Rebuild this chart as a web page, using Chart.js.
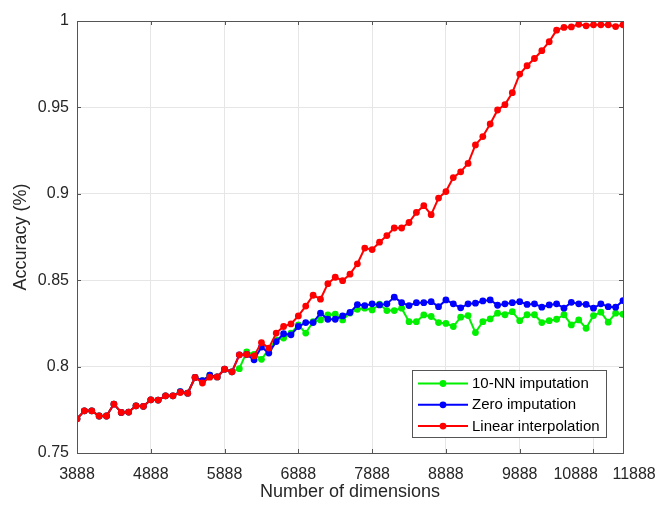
<!DOCTYPE html>
<html><head><meta charset="utf-8">
<script src="https://cdn.jsdelivr.net/npm/chart.js@4/dist/chart.umd.min.js"></script>
<style>html,body{margin:0;padding:0;background:#fff;overflow:hidden}</style>
</head><body>
<canvas id="c" width="659" height="505" style="display:block;width:659px;height:505px"></canvas>
<script>
// Number of dimensions (x categories)
const dims = [3888,3988,4088,4188,4288,4388,4488,4588,4688,4788,
  4888,4988,5088,5188,5288,5388,5488,5588,5688,5788,
  5888,5988,6088,6188,6288,6388,6488,6588,6688,6788,
  6888,6988,7088,7188,7288,7388,7488,7588,7688,7788,
  7888,7988,8088,8188,8288,8388,8488,8588,8688,8788,
  8888,8988,9088,9188,9288,9388,9488,9588,9688,9788,
  9888,9988,10088,10188,10288,10388,10488,10588,10688,10788,
  10888,10988,11088,11188,11288];

const knnAcc = [0.7698,0.7744,0.7744,0.7714,0.7714,0.7783,0.7735,0.7737,0.7773,0.7770,
  0.7808,0.7806,0.7831,0.7831,0.7855,0.7846,0.7937,0.7918,0.7950,0.7940,
  0.7985,0.7970,0.7988,0.8085,0.8070,0.8042,0.8100,0.8155,0.8165,0.8194,
  0.8241,0.8194,0.8260,0.8270,0.8299,0.8303,0.8270,0.8310,0.8332,0.8338,
  0.8328,0.8361,0.8324,0.8324,0.8338,0.8260,0.8260,0.8299,0.8290,0.8255,
  0.8250,0.8232,0.8286,0.8295,0.8197,0.8260,0.8276,0.8309,0.8300,0.8318,
  0.8266,0.8300,0.8300,0.8255,0.8266,0.8274,0.8300,0.8241,0.8270,0.8222,
  0.8295,0.8315,0.8257,0.8309,0.8303];

const zeroAcc = [0.7698,0.7744,0.7744,0.7714,0.7714,0.7783,0.7735,0.7737,0.7773,0.7770,
  0.7808,0.7806,0.7831,0.7831,0.7855,0.7846,0.7937,0.7918,0.7950,0.7940,
  0.7985,0.7970,0.8068,0.8070,0.8039,0.8113,0.8078,0.8145,0.8190,0.8184,
  0.8232,0.8255,0.8255,0.8309,0.8274,0.8274,0.8293,0.8313,0.8359,0.8353,
  0.8363,0.8357,0.8363,0.8402,0.8370,0.8353,0.8370,0.8370,0.8376,0.8347,
  0.8386,0.8363,0.8340,0.8363,0.8367,0.8380,0.8386,0.8355,0.8363,0.8370,
  0.8376,0.8360,0.8363,0.8344,0.8357,0.8363,0.8338,0.8372,0.8363,0.8360,
  0.8338,0.8363,0.8347,0.8344,0.8382];

const linearAcc = [0.7698,0.7744,0.7744,0.7714,0.7714,0.7783,0.7735,0.7737,0.7773,0.7770,
  0.7808,0.7806,0.7831,0.7831,0.7850,0.7846,0.7937,0.7905,0.7939,0.7940,
  0.7985,0.7970,0.8068,0.8070,0.8062,0.8139,0.8107,0.8194,0.8232,0.8247,
  0.8293,0.8350,0.8413,0.8390,0.8480,0.8517,0.8497,0.8535,0.8595,0.8686,
  0.8677,0.8720,0.8758,0.8802,0.8802,0.8834,0.8892,0.8931,0.8879,0.8975,
  0.9013,0.9094,0.9127,0.9176,0.9283,0.9331,0.9404,0.9485,0.9516,0.9585,
  0.9693,0.9741,0.9783,0.9828,0.9880,0.9947,0.9963,0.9966,0.9981,0.9972,
  0.9978,0.9978,0.9978,0.9968,0.9978];

const seriesNames = ['10-NN imputation','Zero imputation','Linear interpolation'];
const seriesColors = ['#00f000','#0000ff','#ff0000'];

const xTickValues = [3888,4888,5888,6888,7888,8888,9888,10888,11288];
const xTickLabels = ['3888','4888','5888','6888','7888','8888','9888','10888','11888'];
const yTickValues = [0.75,0.8,0.85,0.9,0.95,1];
const yTickLabels = ['0.75','0.8','0.85','0.9','0.95','1'];

const FONT = "'Liberation Sans', Arial, sans-serif";
const TXT = '#262626';

function pts(ys){ return ys.map((y,i)=>({x:dims[i], y:y})); }

const allSeries = [knnAcc, zeroAcc, linearAcc];
const datasets = allSeries.map((s,k)=>({
  label: seriesNames[k],
  data: pts(s),
  borderColor: seriesColors[k],
  backgroundColor: seriesColors[k],
  pointBackgroundColor: seriesColors[k],
  pointBorderColor: seriesColors[k],
  pointBorderWidth: 0,
  pointRadius: 3.4,
  borderWidth: 2,
  tension: 0,
  order: 3 - k
}));

const boxPlugin = {
  id: 'boxPlugin',
  afterDatasetsDraw(chart){
    const {ctx, chartArea:a, scales:{x, y}} = chart;
    ctx.save();
    ctx.strokeStyle = '#555555';
    ctx.lineWidth = 1;
    ctx.beginPath();
    const L = 4;
    xTickValues.forEach(v=>{
      const px = Math.round(x.getPixelForValue(v)) + 0.5;
      ctx.moveTo(px, a.bottom); ctx.lineTo(px, a.bottom - L);
      ctx.moveTo(px, a.top); ctx.lineTo(px, a.top + L);
    });
    yTickValues.forEach(v=>{
      const py = Math.round(y.getPixelForValue(v)) + 0.5;
      ctx.moveTo(a.left, py); ctx.lineTo(a.left + L, py);
      ctx.moveTo(a.right, py); ctx.lineTo(a.right - L, py);
    });
    ctx.stroke();
    ctx.strokeRect(Math.round(a.left)+0.5, Math.round(a.top)+0.5, Math.round(a.right-a.left), Math.round(a.bottom-a.top));
    ctx.restore();
  },
  afterDraw(chart){
    const {ctx, chartArea:a} = chart;
    ctx.save();
    const bw = 194, bh = 67;
    const bx = a.right - 17 - bw, by = a.bottom - 16 - bh;
    ctx.fillStyle = '#ffffff';
    ctx.fillRect(bx, by, bw, bh);
    ctx.strokeStyle = '#555555';
    ctx.lineWidth = 1;
    ctx.strokeRect(Math.round(bx)+0.5, Math.round(by)+0.5, bw, bh);
    ctx.font = '15px ' + FONT;
    ctx.textBaseline = 'middle';
    ctx.textAlign = 'left';
    seriesNames.forEach((name,k)=>{
      const cy = by + 13.5 + k*21.3;
      ctx.strokeStyle = seriesColors[k];
      ctx.lineWidth = 2;
      ctx.beginPath();
      ctx.moveTo(bx + 6, cy); ctx.lineTo(bx + 56, cy);
      ctx.stroke();
      ctx.fillStyle = seriesColors[k];
      ctx.beginPath();
      ctx.arc(bx + 31, cy, 3.4, 0, Math.PI*2);
      ctx.fill();
      ctx.fillStyle = '#000000';
      ctx.fillText(name, bx + 60, cy + 0.5);
    });
    ctx.restore();
  }
};

new Chart(document.getElementById('c'), {
  type: 'line',
  data: { datasets },
  options: {
    responsive: false,
    animation: false,
    devicePixelRatio: 1,
    layout: { padding: { top: 21, right: 36, left: 0, bottom: 0 } },
    plugins: { legend: { display: false }, tooltip: { enabled: false } },
    elements: { line: { borderJoinStyle: 'round' } },
    scales: {
      x: {
        type: 'linear',
        min: 3888, max: 11288,
        afterBuildTicks(scale){ scale.ticks = xTickValues.map(v=>({value:v})); },
        afterFit(scale){ scale.height = 52; scale.paddingRight = 36; scale.paddingLeft = 0; },
        grid: { color: '#e6e6e6', drawTicks: false },
        border: { display: false },
        ticks: {
          autoSkip: false, maxRotation: 0, padding: 12,
          color: TXT, font: { family: FONT, size: 16 },
          callback(v){
            const i = xTickValues.indexOf(v);
            let s = i >= 0 ? xTickLabels[i] : '';
            if (i === xTickValues.length - 2) s = s + '        ';
            if (i === xTickValues.length - 1) s = '     ' + s;
            return s;
          }
        },
        title: { display: true, text: 'Number of dimensions', color: TXT,
          font: { family: FONT, size: 18 }, padding: { top: 0, bottom: 2 } }
      },
      y: {
        type: 'linear',
        min: 0.75, max: 1,
        afterBuildTicks(scale){ scale.ticks = yTickValues.map(v=>({value:v})); },
        afterFit(scale){ scale.width = 77; },
        grid: { color: '#e6e6e6', drawTicks: false },
        border: { display: false },
        ticks: {
          padding: 8, color: TXT, font: { family: FONT, size: 16 },
          callback(v){ const i = yTickValues.findIndex(t=>Math.abs(t-v)<1e-9); return i>=0 ? yTickLabels[i] : ''; }
        },
        title: { display: true, text: 'Accuracy (%)', color: TXT,
          font: { family: FONT, size: 18 }, padding: { top: 10, bottom: 0 } }
      }
    }
  },
  plugins: [boxPlugin]
});
</script>
</body></html>
